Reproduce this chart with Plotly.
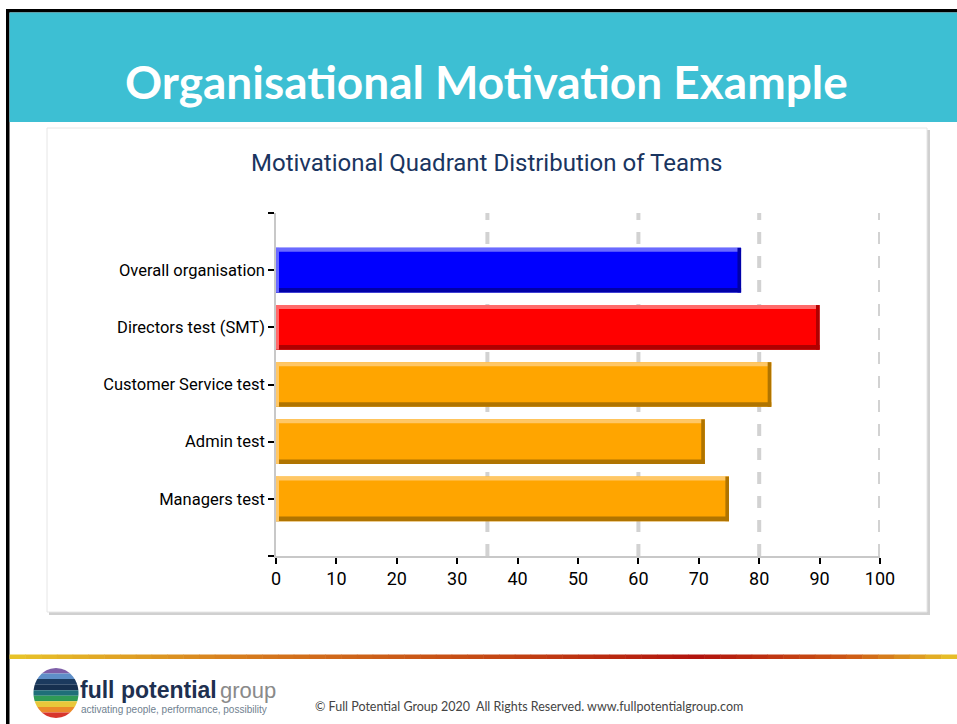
import math
import plotly.graph_objects as go

# ---- data ----
categories = ["Overall organisation", "Directors test (SMT)", "Customer Service test", "Admin test", "Managers test"]
values = [77, 90, 82, 71, 75]
bar_colors = ["#0000FF", "#FF0000", "#FFA500", "#FFA500", "#FFA500"]
light_colors = ["#6A6AFF", "#FF6A6A", "#FFC766", "#FFC766", "#FFC766"]
dark_colors = ["#0000A8", "#B00000", "#B07400", "#B07400", "#B07400"]
reference_lines = [35, 60, 80, 100]
x_ticks = [0, 10, 20, 30, 40, 50, 60, 70, 80, 90, 100]

W, H = 957, 724
CHART_FONT = "Roboto, Liberation Sans, sans-serif"

def px(x):
    return x / W

def py(y):
    return 1 - y / H

pos = list(range(len(categories)))
BW = 0.78

fig = go.Figure()
fig.add_trace(go.Bar(y=pos, x=values, orientation="h", width=BW,
                     marker=dict(color=bar_colors, line=dict(width=0)),
                     hoverinfo="x+text", hovertext=categories, showlegend=False))
fig.add_trace(go.Bar(y=pos, x=values, orientation="h", width=0.07, offset=-BW / 2,
                     marker=dict(color=light_colors, line=dict(width=0)),
                     hoverinfo="skip", showlegend=False))
fig.add_trace(go.Bar(y=pos, x=values, orientation="h", width=0.08, offset=BW / 2 - 0.08,
                     marker=dict(color=dark_colors, line=dict(width=0)),
                     hoverinfo="skip", showlegend=False))
fig.add_trace(go.Bar(y=pos, x=[0.6] * len(values), base=[v - 0.6 for v in values],
                     orientation="h", width=BW,
                     marker=dict(color=dark_colors, line=dict(width=0)),
                     hoverinfo="skip", showlegend=False))
fig.add_trace(go.Bar(y=pos, x=[0.5] * len(values), base=[0] * len(values),
                     orientation="h", width=BW,
                     marker=dict(color=light_colors, line=dict(width=0)),
                     hoverinfo="skip", showlegend=False))

shapes = []
# slide borders
shapes.append(dict(type="rect", xref="paper", yref="paper", x0=px(6), x1=px(9.5), y0=py(H), y1=py(9),
                   fillcolor="#000000", line=dict(width=0), layer="below"))
shapes.append(dict(type="rect", xref="paper", yref="paper", x0=px(6), x1=px(W), y0=py(12.5), y1=py(9),
                   fillcolor="#000000", line=dict(width=0), layer="below"))
# teal header
shapes.append(dict(type="rect", xref="paper", yref="paper", x0=px(9.5), x1=px(W), y0=py(122), y1=py(12.5),
                   fillcolor="#3DBFD3", line=dict(width=0), layer="below"))
# chart card shadow + card
shapes.append(dict(type="rect", xref="paper", yref="paper", x0=px(49), x1=px(930), y0=py(615), y1=py(130),
                   fillcolor="#D0D0D0", line=dict(width=0), layer="below"))
shapes.append(dict(type="rect", xref="paper", yref="paper", x0=px(47), x1=px(927), y0=py(612), y1=py(128),
                   fillcolor="#FFFFFF", line=dict(color="#E6E6E6", width=1), layer="below"))

# footer gradient line (decoration)
stops = [(9.5, (232, 197, 42)), (250, (214, 122, 30)), (500, (196, 70, 20)), (700, (178, 20, 14)),
         (850, (206, 90, 22)), (957, (232, 197, 42))]
nseg = 60
for k in range(nseg):
    xa = 9.5 + (W - 9.5) * k / nseg
    xb = 9.5 + (W - 9.5) * (k + 1) / nseg
    xm = (xa + xb) / 2
    for j in range(len(stops) - 1):
        if stops[j][0] <= xm <= stops[j + 1][0]:
            t = (xm - stops[j][0]) / (stops[j + 1][0] - stops[j][0])
            c = tuple(int(stops[j][1][m] + (stops[j + 1][1][m] - stops[j][1][m]) * t) for m in range(3))
            break
    shapes.append(dict(type="rect", xref="paper", yref="paper", x0=px(xa), x1=px(min(xb + 0.5, W)),
                       y0=py(659), y1=py(654.5), fillcolor=f"rgb{c}", line=dict(width=0), layer="below"))

# logo oval built from bands
cx, cy, rx, ry = 56, 693, 22.5, 25
band_cols = ["#7E5FA8", "#5F8FC8", "#1B3A5E", "#16304F", "#1F6F78", "#2F9A55", "#E9C83A", "#EC8A2A", "#D8352C"]
nb = len(band_cols)
for i, c in enumerate(band_cols):
    ya = cy - ry + 2 * ry * i / nb
    yb = cy - ry + 2 * ry * (i + 1) / nb
    pts = []
    steps = 8
    for k in range(steps + 1):
        yy = ya + (yb - ya) * k / steps
        dx = rx * math.sqrt(max(1 - ((yy - cy) / ry) ** 2, 0))
        pts.append((cx + dx, yy))
    for k in range(steps, -1, -1):
        yy = ya + (yb - ya) * k / steps
        dx = rx * math.sqrt(max(1 - ((yy - cy) / ry) ** 2, 0))
        pts.append((cx - dx, yy))
    path = "M " + " L ".join(f"{px(a):.5f},{py(b):.5f}" for a, b in pts) + " Z"
    shapes.append(dict(type="path", xref="paper", yref="paper", path=path,
                       fillcolor=c, line=dict(width=0), layer="below"))

# reference dashed lines
for v in reference_lines:
    shapes.append(dict(type="line", xref="x", yref="y domain", x0=v, x1=v, y0=0, y1=1,
                       line=dict(color="#D2D2D2", width=4, dash="dash"), layer="below"))

annotations = [
    dict(text="<b>Organisational Motivation Example</b>", xref="paper", yref="paper",
         x=px(486), y=py(82), showarrow=False, xanchor="center", yanchor="middle",
         font=dict(family="Lato, Open Sans, sans-serif", size=46, color="#FFFFFF")),
    dict(text="Motivational Quadrant Distribution of Teams", xref="paper", yref="paper",
         x=px(486), y=py(163), showarrow=False, xanchor="center", yanchor="middle",
         font=dict(family=CHART_FONT, size=24, color="#1A3560")),
    dict(text="<b>full potential</b>", xref="paper", yref="paper",
         x=px(78), y=py(690), showarrow=False, xanchor="left", yanchor="middle",
         font=dict(family="Liberation Sans, Arial, sans-serif", size=23, color="#1E3050")),
    dict(text="group", xref="paper", yref="paper",
         x=px(218), y=py(690), showarrow=False, xanchor="left", yanchor="middle",
         font=dict(family="Liberation Sans, Arial, sans-serif", size=22, color="#8A8A8A")),
    dict(text="activating people, performance, possibility", xref="paper", yref="paper",
         x=px(79), y=py(709), showarrow=False, xanchor="left", yanchor="middle",
         font=dict(family="Liberation Sans, Arial, sans-serif", size=10, color="#6F7F8F")),
    dict(text="© Full Potential Group 2020  All Rights Reserved. www.fullpotentialgroup.com", xref="paper", yref="paper",
         x=px(313), y=py(706), showarrow=False, xanchor="left", yanchor="middle",
         font=dict(family="Lato, sans-serif", size=12.5, color="#444444")),
]

fig.update_layout(
    width=W, height=H,
    margin=dict(l=0, r=0, t=0, b=0, pad=0, autoexpand=False),
    paper_bgcolor="#FFFFFF",
    plot_bgcolor="rgba(0,0,0,0)",
    barmode="overlay",
    shapes=shapes,
    annotations=annotations,
    showlegend=False,
    xaxis=dict(domain=[px(276), px(880)], range=[0, 100], tickvals=x_ticks, automargin=False,
               ticks="outside", ticklen=6, tickcolor="#000000", tickwidth=1.5,
               showgrid=False, zeroline=False, showline=True, linecolor="#C8C8C8", linewidth=1.5,
               anchor="y", tickfont=dict(family=CHART_FONT, size=18, color="#000000")),
    yaxis=dict(domain=[py(556), py(213)], range=[len(categories), -1], automargin=False,
               tickvals=[-1] + pos + [len(categories)], ticktext=[""] + categories + [""],
               ticks="outside", ticklen=6, tickcolor="#000000", tickwidth=1.5,
               showgrid=False, zeroline=False, showline=True, linecolor="#C8C8C8", linewidth=1.5,
               anchor="x", tickfont=dict(family=CHART_FONT, size=16.5, color="#000000")),
)

fig.write_html("out.html", config={"displayModeBar": False},
               post_script="document.body.style.margin='0';document.body.style.padding='0';document.body.style.overflow='hidden';")
